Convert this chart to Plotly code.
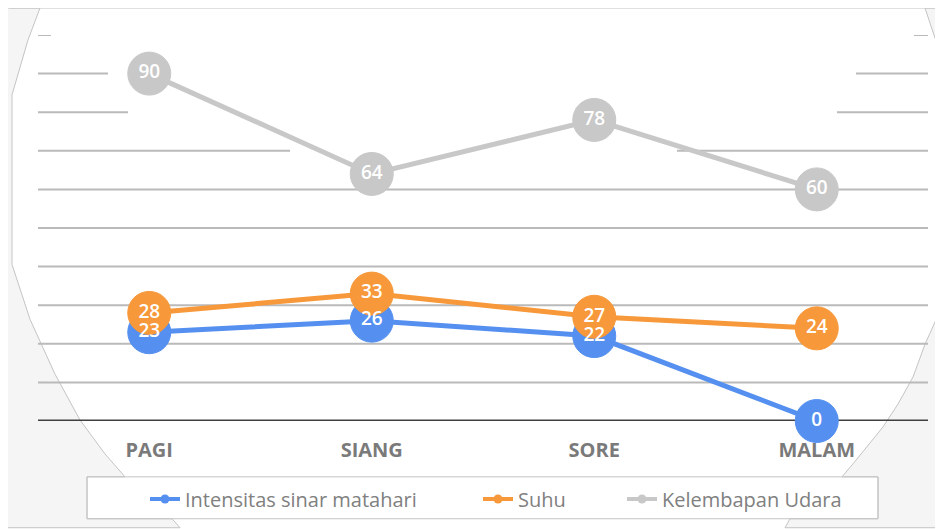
import plotly.graph_objects as go

# ---- data ----
categories = ["PAGI", "SIANG", "SORE", "MALAM"]
intensitas = [23, 26, 22, 0]
suhu = [28, 33, 27, 24]
kelembapan = [90, 64, 78, 60]
series_names = ["Intensitas sinar matahari", "Suhu", "Kelembapan Udara"]
grid_values = [10, 20, 30, 40, 50, 60, 70, 80, 90, 100]

# ---- styling ----
OFF = 8  # page body margin
W, H = 943 - OFF, 529 - OFF
# plot area in window pixels: x 38..928, y 35..422
X0, Y0 = 38, 422
ML, MT = X0 - OFF, 35 - OFF
PW, PH = 890, 387
MR, MB = W - ML - PW, H - MT - PH
colors = ["#5590F0", "#F7983A", "#C8C8C8"]
FONT = "Open Sans"


def px(x):
    return (x - X0) / PW


def py(y):
    return (Y0 - y) / PH


def path_from(points):
    pts = [f"{px(x):.5f},{py(y):.5f}" for x, y in points]
    return "M" + " L".join(pts) + " Z"


fig = go.Figure()
all_series = [intensitas, suhu, kelembapan]

for name, vals, col in zip(series_names, all_series, colors):
    fig.add_trace(go.Scatter(
        x=categories, y=vals, mode="lines+markers", name=name,
        line=dict(color=col, width=5),
        marker=dict(size=43, color=col, line=dict(color=col, width=1)),
        showlegend=False, hoverinfo="x+y+name", cliponaxis=False,
    ))

for name, vals in zip(series_names, all_series):
    fig.add_trace(go.Scatter(
        x=categories, y=vals, mode="text", text=[str(v) for v in vals],
        textposition="middle center",
        textfont=dict(family=FONT, size=19, color="white", weight=600),
        showlegend=False, hoverinfo="skip", cliponaxis=False,
    ))

legend_ids = ["legend", "legend2", "legend3"]
for name, col, lid in zip(series_names, colors, legend_ids):
    fig.add_trace(go.Scatter(
        x=[None], y=[None], mode="lines+markers", name=name, legend=lid,
        line=dict(color=col, width=4), marker=dict(size=9, color=col),
    ))

shapes = []
left_poly = [(0, 8), (40, 8), (28, 40), (12, 95), (12, 265), (30, 320), (55, 375),
             (80, 421), (105, 455), (125, 478), (87, 478), (87, 520), (172, 520),
             (180, 529), (0, 529)]
right_top = [(925, 8), (943, 8), (943, 62), (935, 38)]
right_poly = [(943, 305), (925, 345), (913, 378), (898, 405), (883, 428), (853, 465),
              (842, 478), (878, 478), (878, 520), (790, 520), (785, 529), (943, 529)]
for poly in (left_poly, right_top, right_poly):
    shapes.append(dict(type="path", xref="paper", yref="paper", path=path_from(poly),
                       fillcolor="#F5F5F5", line=dict(color="#C4C4C4", width=1),
                       layer="below"))
shapes.append(dict(type="line", xref="paper", yref="paper",
                   x0=px(10), x1=px(935), y0=py(8), y1=py(8),
                   line=dict(color="#C8C8C8", width=1), layer="below"))

partial = {
    70: [(38, 290), (677, 928)],
    80: [(38, 128), (837, 928)],
    90: [(38, 108), (856, 928)],
    100: [(38, 51), (914, 928)],
}
for g in grid_values:
    for a, b in partial.get(g, [(38, 928)]):
        shapes.append(dict(type="line", xref="paper", yref="y",
                           x0=px(a), x1=px(b), y0=g, y1=g,
                           line=dict(color="#BABABA", width=2), layer="below"))
shapes.append(dict(type="line", xref="paper", yref="y", x0=0, x1=1, y0=0, y1=0,
                   line=dict(color="#404040", width=3), layer="below"))
shapes.append(dict(type="rect", xref="paper", yref="paper", x0=px(87), x1=px(878),
                   y0=py(478), y1=py(520), line=dict(color="#C4C4C4", width=1),
                   fillcolor="rgba(0,0,0,0)", layer="below"))

legend_common = dict(orientation="h", xanchor="left", yanchor="middle", y=py(499),
                     font=dict(family=FONT, size=20, color="#808080"),
                     bgcolor="rgba(0,0,0,0)", borderwidth=0)
text_starts = [187, 520, 664]
layout_legends = {}
for lid, ts in zip(legend_ids, text_starts):
    layout_legends[lid] = dict(legend_common, x=px(ts - 42))

fig.update_layout(
    width=W, height=H,
    margin=dict(l=ML, r=MR, t=MT, b=MB, pad=0),
    paper_bgcolor="white", plot_bgcolor="rgba(0,0,0,0)",
    shapes=shapes, showlegend=True, font=dict(family=FONT),
    **layout_legends,
)

fig.update_xaxes(type="category", range=[-0.5, 3.5], showgrid=False, zeroline=False,
                 showline=False, ticks="outside", ticklen=11, tickcolor="rgba(0,0,0,0)",
                 tickfont=dict(family=FONT, size=20, color="#7A7A7A", weight=700))
fig.update_yaxes(range=[0, 100], showgrid=False, zeroline=False, showline=False,
                 showticklabels=False, ticks="")

fig.write_html("out.html")
